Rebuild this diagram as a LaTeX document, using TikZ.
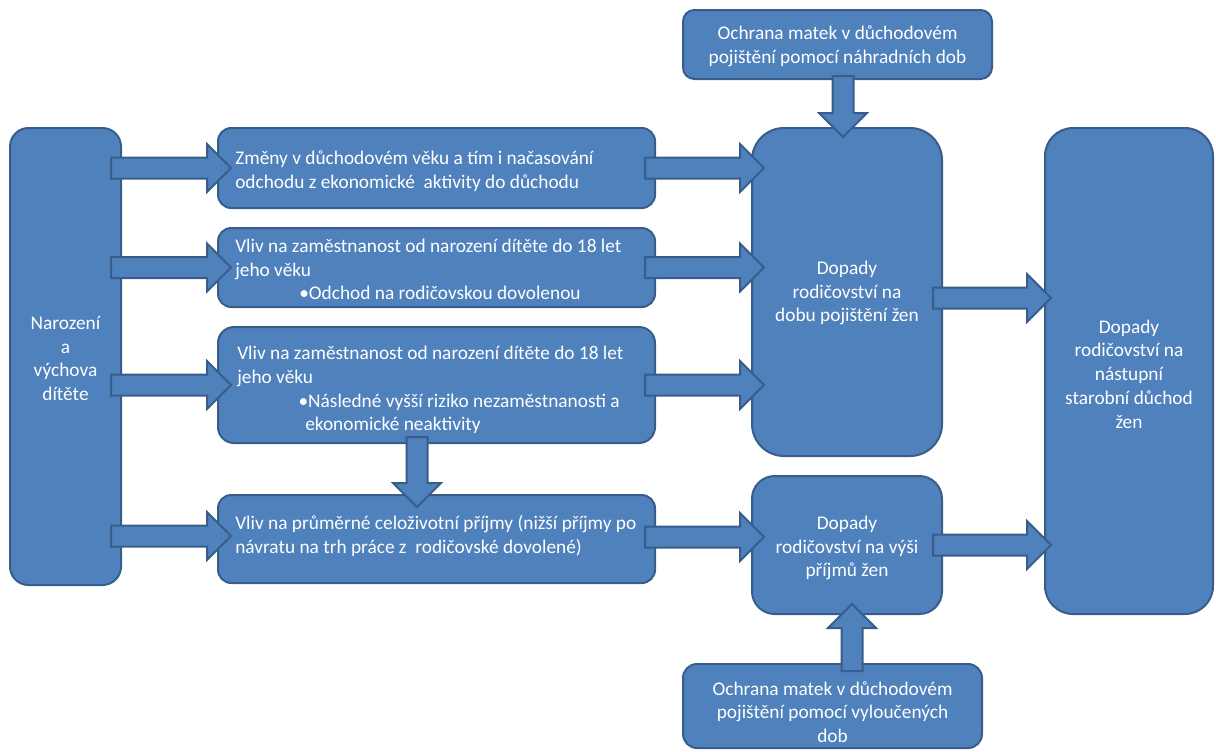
\documentclass[tikz,border=0pt]{standalone}
\usepackage{fontspec}
\setmainfont{Carlito}
\usetikzlibrary{calc}
\definecolor{boxfill}{HTML}{4F81BD}
\definecolor{boxline}{HTML}{385D8A}
\newcommand\fsz{\fontsize{14.5}{17.8}\selectfont}
\tikzset{
  box/.style={draw=boxline, fill=boxfill, line width=1.5pt, inner sep=0pt},
  txt/.style={text=white, font=\fsz, inner sep=0pt},
  barrow/.style={draw=boxline, fill=boxfill, line width=1.5pt, line join=miter},
}
% block arrow: #1 start, #2 end (tip), (#3,#4) unit direction
\newcommand\blk[4]{%
  \draw[barrow]
    ($(#1)+({-10.5*(#4)},{10.5*(#3)})$) --
    ($(#2)+({-24*(#3)-10.5*(#4)},{-24*(#4)+10.5*(#3)})$) --
    ($(#2)+({-24*(#3)-24*(#4)},{-24*(#4)+24*(#3)})$) --
    (#2) --
    ($(#2)+({-24*(#3)+24*(#4)},{-24*(#4)-24*(#3)})$) --
    ($(#2)+({-24*(#3)+10.5*(#4)},{-24*(#4)-10.5*(#3)})$) --
    ($(#1)+({10.5*(#4)},{-10.5*(#3)})$) -- cycle;}
\begin{document}
\begin{tikzpicture}[x=0.75pt,y=-0.75pt]
\useasboundingbox (0,0) rectangle (1216,751);
% boxes
\node[box, minimum width=83.25pt, minimum height=342.75pt, rounded corners=13.9pt] (L) at (65.5,356.5) {};
\node[box, minimum width=327.75pt, minimum height=60pt, rounded corners=10pt] (A) at (436.5,168) {};
\node[box, minimum width=327.75pt, minimum height=59.25pt, rounded corners=10pt] (B) at (436.5,267.5) {};
\node[box, minimum width=327.75pt, minimum height=87pt, rounded corners=12pt] (C) at (436.5,385) {};
\node[box, minimum width=327.75pt, minimum height=66pt, rounded corners=10pt] (D) at (436.5,539) {};
\node[box, minimum width=231.75pt, minimum height=51.75pt, rounded corners=8.6pt] (T) at (837.5,44.5) {};
\node[box, minimum width=142.5pt, minimum height=246pt, rounded corners=24pt] (M) at (847,292) {};
\node[box, minimum width=142.5pt, minimum height=103.5pt, rounded corners=17pt] (I) at (847,545) {};
\node[box, minimum width=224.25pt, minimum height=63pt, rounded corners=10.5pt] (Bt) at (832.5,706) {};
\node[box, minimum width=126pt, minimum height=364.5pt, rounded corners=21pt] (R) at (1129,371) {};
% texts
\node[txt, align=center] (tL) at ($(L.center)+(0,2)$) {Narození\\a\\výchova\\dítěte};
\node[txt, align=left, anchor=west] (tA) at ($(A.west)+(18,3)$) {Změny v důchodovém věku a tím i načasování\\odchodu z ekonomické\ \ aktivity do důchodu};
\node[txt, align=left, anchor=west] (tB) at ($(B.west)+(18,2)$) {Vliv na zaměstnanost od narození dítěte do 18 let\\jeho věku\\\hspace*{48pt}•Odchod na rodičovskou dovolenou};
\node[txt, align=left, anchor=west] (tC) at ($(C.west)+(20,5)$) {Vliv na zaměstnanost od narození dítěte do 18 let\\jeho věku\\\hspace*{46pt}•Následné vyšší riziko nezaměstnanosti a\\\hspace*{51pt}ekonomické neaktivity};
\node[txt, align=left, anchor=west] (tD) at ($(D.west)+(18,-3)$) {Vliv na průměrné celoživotní příjmy (nižší příjmy po\\návratu na trh práce z\ \ rodičovské dovolené)};
\node[txt, align=center] (tT) at ($(T.center)+(0,2)$) {Ochrana matek v důchodovém\\pojištění pomocí náhradních dob};
\node[txt, align=center] (tM) at ($(M.center)+(0,1)$) {Dopady\\rodičovství na\\dobu pojištění žen};
\node[txt, align=center] (tI) at ($(I.center)+(0,3)$) {Dopady\\rodičovství na výši\\příjmů žen};
\node[txt, align=center] (tBt) at ($(Bt.center)+(0,6)$) {Ochrana matek v důchodovém\\pojištění pomocí vyloučených\\dob};
\node[txt, align=center] (tR) at ($(R.center)+(0,3)$) {Dopady\\rodičovství na\\nástupní\\starobní důchod\\žen};
% arrow end points
\coordinate (s1) at ($(L.east |- A.west)+(-11,0)$);
\coordinate (e1) at ($(A.west)+(14,0)$);
\coordinate (s2) at ($(L.east |- B.west)+(-11,0)$);
\coordinate (e2) at ($(B.west)+(14,0)$);
\coordinate (s3) at ($(L.east |- C.west)+(-11,0)$);
\coordinate (e3) at ($(C.west)+(14,0)$);
\coordinate (s4) at ($(L.east |- D.west)+(-11,-3)$);
\coordinate (e4) at ($(D.west)+(14,-3)$);
\coordinate (r1) at ($(A.east)+(-11,0)$);
\coordinate (f1) at ($(M.west |- A.east)+(13,0)$);
\coordinate (r2) at ($(B.east)+(-11,0)$);
\coordinate (f2) at ($(M.west |- B.east)+(13,0)$);
\coordinate (r3) at ($(C.east)+(-11,0)$);
\coordinate (f3) at ($(M.west |- C.east)+(13,0)$);
\coordinate (r4) at ($(D.east)+(-11,-2)$);
\coordinate (f4) at ($(I.west |- D.east)+(13,-2)$);
\coordinate (m1) at ($(M.east)+(-10,6)$);
\coordinate (m2) at ($(R.west |- M.east)+(7,6)$);
\coordinate (i1) at ($(I.east)+(-10,0)$);
\coordinate (i2) at ($(R.west |- I.east)+(7,0)$);
\coordinate (c1) at ($(C.south)+(-19.5,-7)$);
\coordinate (c2) at ($(c1 |- D.north)+(0,13)$);
\coordinate (t1) at ($(T.south)+(5.5,-4)$);
\coordinate (t2) at ($(t1 |- M.north)+(0,10)$);
\coordinate (b1) at ($(Bt.north)+(19.5,8)$);
\coordinate (b2) at ($(b1 |- I.south)+(0,-11)$);
% arrows
\blk{s1}{e1}{1}{0}
\blk{s2}{e2}{1}{0}
\blk{s3}{e3}{1}{0}
\blk{s4}{e4}{1}{0}
\blk{r1}{f1}{1}{0}
\blk{r2}{f2}{1}{0}
\blk{r3}{f3}{1}{0}
\blk{r4}{f4}{1}{0}
\blk{m1}{m2}{1}{0}
\blk{i1}{i2}{1}{0}
\blk{c1}{c2}{0}{1}
\blk{t1}{t2}{0}{1}
\blk{b1}{b2}{0}{-1}
\end{tikzpicture}
\end{document}
